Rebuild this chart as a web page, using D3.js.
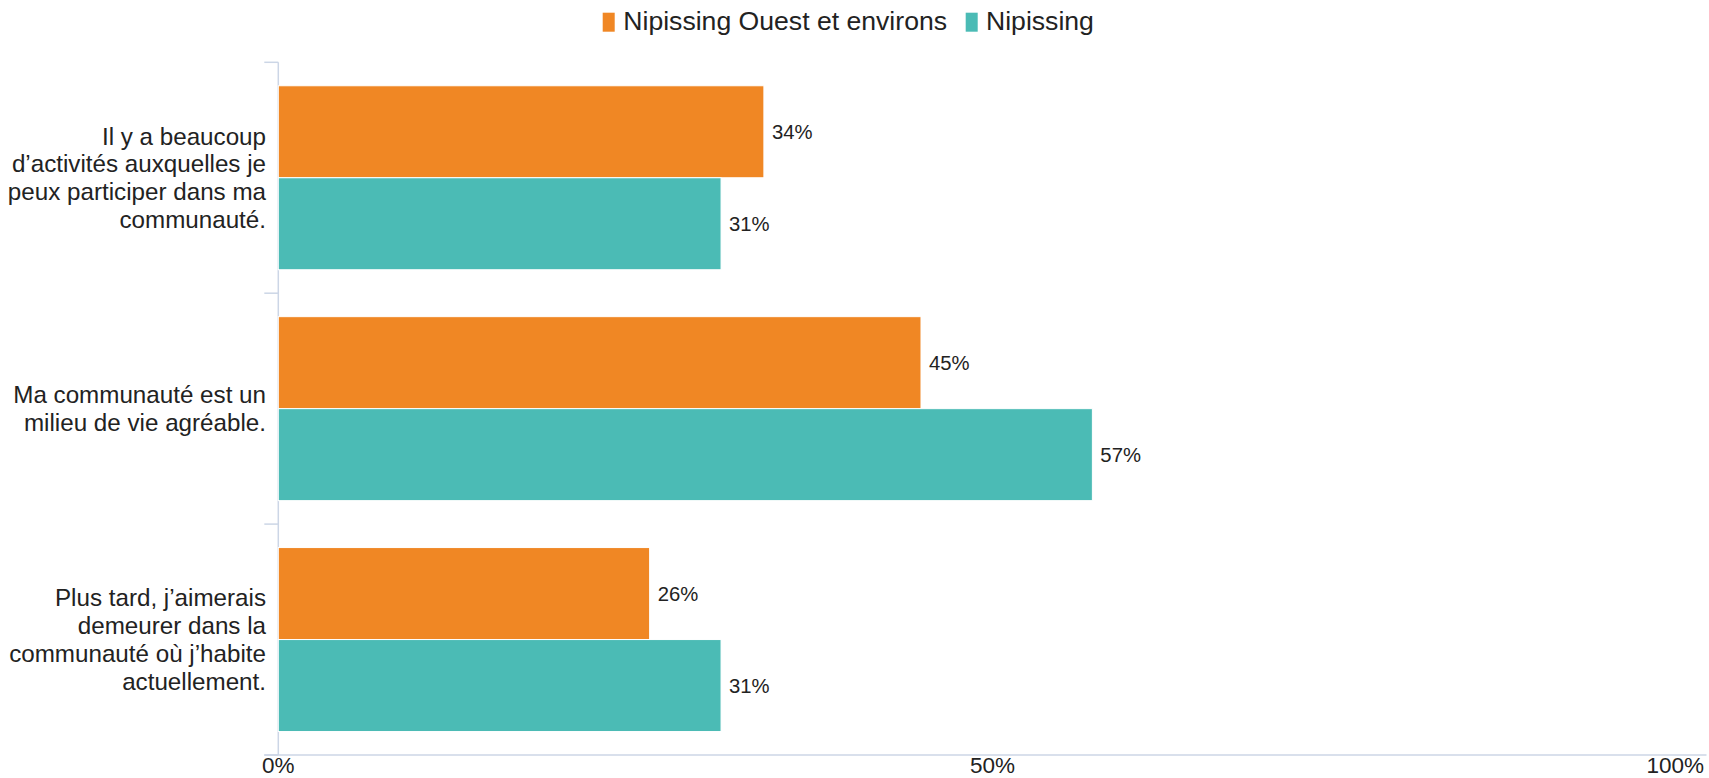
<!DOCTYPE html>
<html>
<head>
<meta charset="utf-8">
<script src="https://cdn.jsdelivr.net/npm/d3@7"></script>
<style>
  html, body { margin: 0; padding: 0; background: #fff; }
  svg { display: block; font-family: "Liberation Sans", Arial, sans-serif; }
</style>
</head>
<body>
<svg id="chart" width="1709" height="778"></svg>
<script>
const categories = [
  ["Il y a beaucoup", "d’activités auxquelles je", "peux participer dans ma", "communauté."],
  ["Ma communauté est un", "milieu de vie agréable."],
  ["Plus tard, j’aimerais", "demeurer dans la", "communauté où j’habite", "actuellement."]
];
const seriesNames = ["Nipissing Ouest et environs", "Nipissing"];
const seriesColors = ["#F08724", "#4BBBB5"];
const valuesOuest = [34, 45, 26];
const valuesNipissing = [31, 57, 31];
const xTicks = [0, 50, 100];

const svg = d3.select("#chart");
const plotLeft = 278.3, plotRight = 1706.5, plotTop = 62.3, plotBottom = 755;
const catIdx = categories.map((d, i) => i);

const x = d3.scaleLinear().domain([0, 100]).range([plotLeft, plotRight]);
const y = d3.scaleBand().domain(catIdx).range([plotTop, plotBottom]).paddingInner(0).paddingOuter(0);
const ySub = d3.scaleBand().domain([0, 1]).range([0, y.bandwidth()]).paddingInner(0).paddingOuter(0.255);

const axisColor = "#ccd6e6";
const textColor = "#222";

// axes lines
svg.append("line").attr("x1", plotLeft).attr("x2", plotLeft).attr("y1", plotTop).attr("y2", plotBottom)
  .attr("stroke", axisColor).attr("stroke-width", 1.5);
svg.append("line").attr("x1", plotLeft - 14).attr("x2", plotRight).attr("y1", plotBottom).attr("y2", plotBottom)
  .attr("stroke", axisColor).attr("stroke-width", 1.5);
// category boundary ticks
const boundaries = catIdx.map(i => y(i)).concat([plotBottom]);
svg.selectAll(".ytick").data(boundaries).enter().append("line")
  .attr("x1", plotLeft - 14).attr("x2", plotLeft).attr("y1", d => d).attr("y2", d => d)
  .attr("stroke", axisColor).attr("stroke-width", 1.5);

// bars
const series = [valuesOuest, valuesNipissing];
series.forEach((vals, s) => {
  const g = svg.append("g");
  g.selectAll("rect").data(vals).enter().append("rect")
    .attr("x", plotLeft)
    .attr("y", (d, i) => y(i) + ySub(s))
    .attr("width", d => x(d) - plotLeft)
    .attr("height", ySub.bandwidth())
    .attr("fill", seriesColors[s])
    .attr("stroke", "#fff").attr("stroke-width", 1);
  g.selectAll("text").data(vals).enter().append("text")
    .attr("x", d => x(d) + 8)
    .attr("y", (d, i) => y(i) + ySub(s) + ySub.bandwidth() / 2)
    .attr("dy", "0.35em")
    .attr("font-size", 20.3)
    .attr("fill", textColor)
    .text(d => d + "%");
});

// category labels
const lh = 27.8;
categories.forEach((lines, i) => {
  const cy = y(i) + y.bandwidth() / 2;
  const t = svg.append("text").attr("text-anchor", "end").attr("font-size", 24.2).attr("fill", textColor);
  lines.forEach((ln, k) => {
    t.append("tspan").attr("x", 266)
      .attr("y", cy + (k - (lines.length - 1) / 2) * lh)
      .attr("dy", "0.35em").text(ln);
  });
});

// x tick labels
svg.selectAll(".xt").data(xTicks).enter().append("text")
  .attr("x", d => d === 100 ? 1704 : x(d))
  .attr("y", 773)
  .attr("text-anchor", d => d === 100 ? "end" : "middle")
  .attr("font-size", 22.5)
  .attr("fill", textColor)
  .text(d => d + "%");

// legend
const legendItems = [
  { name: seriesNames[0], color: seriesColors[0], mx: 602.7, tx: 623.3 },
  { name: seriesNames[1], color: seriesColors[1], mx: 965.7, tx: 986 }
];
legendItems.forEach(it => {
  svg.append("rect").attr("x", it.mx).attr("y", 12.7).attr("width", 12).attr("height", 19).attr("fill", it.color);
  svg.append("text").attr("x", it.tx).attr("y", 29.8).attr("font-size", 26.6).attr("fill", textColor).text(it.name);
});
</script>
</body>
</html>
